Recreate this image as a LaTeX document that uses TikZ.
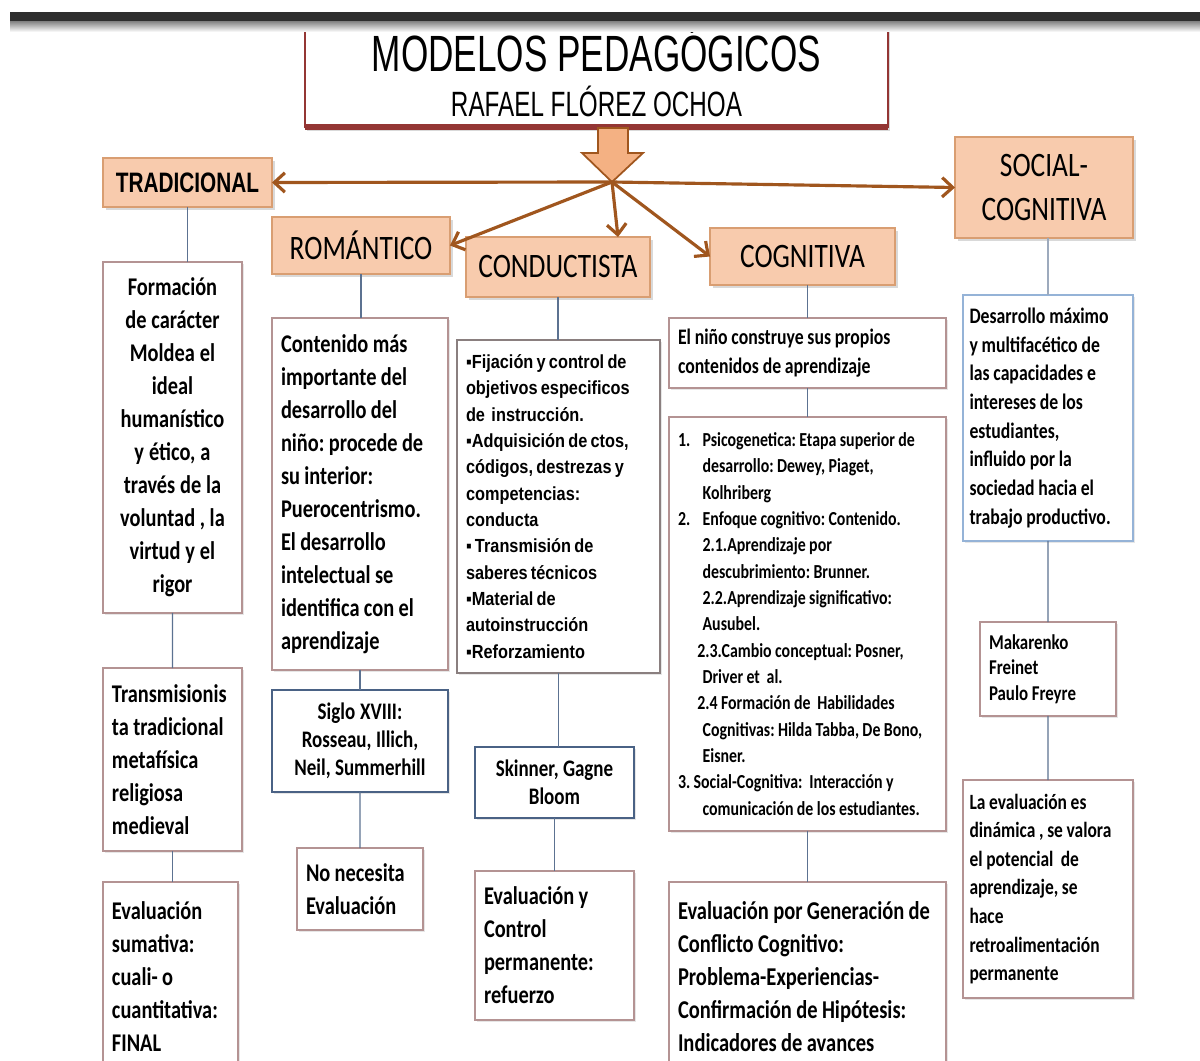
\documentclass[tikz,border=0pt]{standalone}
\usepackage{fontspec}
\usetikzlibrary{arrows.meta,shadows}
\newfontfamily\calibri{Carlito}[FakeStretch=0.8]
\newfontfamily\arialn{Liberation Sans}[FakeStretch=0.86]
\newfontfamily\arialc{Liberation Sans}[FakeStretch=0.74]
\newfontfamily\titulofont{Liberation Sans}[FakeStretch=0.69]
\definecolor{naranja}{HTML}{F8CBAD}
\definecolor{naranjab}{HTML}{D99E72}
\definecolor{naranjaf}{HTML}{F4B183}
\definecolor{cafe}{HTML}{A0561E}
\definecolor{vino}{HTML}{943634}
\definecolor{lineaazul}{HTML}{5C7291}
\definecolor{rosa}{HTML}{B49393}
\definecolor{grisb}{HTML}{8A7F7F}
\definecolor{azulb}{HTML}{4A6285}
\definecolor{celeste}{HTML}{95B3D7}
\definecolor{barra}{HTML}{2E2E2E}
\newcommand{\sangria}{\hspace*{14pt}}
\newcommand{\espacio}{\frenchspacing\spaceskip=0.17em plus 0.05em minus 0.03em\relax}
\begin{document}
\hyphenpenalty=10000 \exhyphenpenalty=10000
\begin{tikzpicture}[x=0.02cm, y=-0.02cm,
  every node/.style={outer sep=0pt},
  titulo/.style={draw=vino, line width=1.5pt, fill=white, align=center,
    minimum width=11.66cm, minimum height=2.18cm,
    drop shadow={shadow xshift=1pt, shadow yshift=-2pt, opacity=0.3}},
  cabeza/.style={draw=naranjab, fill=naranja, line width=0.8pt, align=center,
    font=\calibri\fontsize{19.5}{24.5}\selectfont,
    drop shadow={shadow xshift=1.5pt, shadow yshift=-1.5pt, opacity=0.3}},
  caja/.style={draw=rosa, fill=white, line width=0.7pt, anchor=north west,
    align=left, inner xsep=0.18cm, inner ysep=0pt,
    font=\calibri\bfseries\fontsize{14.5}{18.8}\selectfont,
    execute at begin node=\espacio,
    drop shadow={shadow xshift=1pt, shadow yshift=-1pt, opacity=0.2}},
  conector/.style={draw=lineaazul, line width=0.8pt},
  flecha/.style={draw=cafe, line width=1.8pt, -{Straight Barb[length=6pt,width=11pt]}}]

\useasboundingbox (0,0) rectangle (1200,1061);
\clip (0,0) rectangle (1200,1061);

% titulo
\node[titulo, font=\titulofont\fontsize{20}{21.6}\selectfont] (titulo) at (596.5,72.5)
  {{\fontsize{29}{21.6}\selectfont MODELOS PEDAGÓGICOS}\\[4pt]RAFAEL FLÓREZ OCHOA};
\draw[vino, line width=3pt] (titulo.south west) -- (titulo.south east);
\fill[barra] (10,12) rectangle (1200,22);
\shade[top color=black!45, bottom color=white] (10,22) rectangle (1200,32);

% flecha gruesa
\draw[cafe, fill=naranjaf, line width=1pt] (598,128) -- (628,128) -- (628,153) -- (643,153)
  -- (612,182) -- (582,153) -- (598,153) -- cycle;
\coordinate (centro) at (612,182);

% modelos
\node[cabeza, minimum width=3.38cm, minimum height=0.98cm,
  font=\arialc\bfseries\fontsize{16}{20}\selectfont] (htrad) at (187.5,182.5) {TRADICIONAL};
\node[cabeza, minimum width=3.56cm, minimum height=1.14cm] (hrom) at (361,245.5) {ROMÁNTICO};
\node[cabeza, minimum width=3.68cm, minimum height=1.2cm] (hcond) at (558,267) {CONDUCTISTA};
\node[cabeza, minimum width=3.7cm, minimum height=1.14cm] (hcog) at (802.5,256.5) {COGNITIVA};
\node[cabeza, minimum width=3.56cm, minimum height=2.02cm] (hsoc) at (1044,187.5) {SOCIAL-\\COGNITIVA};

\draw[flecha] (centro) -- (htrad.east);
\draw[flecha] (centro) -- (hsoc.west);
\draw[flecha] (centro) -- (hrom.east);
\draw[flecha] (centro) -- ([xshift=1.2cm]hcond.north);
\draw[flecha] (centro) -- (hcog.west);

% tradicional
\node[caja, text width=2.58cm, inner xsep=0.1cm, minimum height=7.02cm, align=center] (trad1) at (103,262)
  {Formación\\de carácter\\Moldea el\\ideal\\humanístico\\y ético, a\\través de la\\voluntad , la\\virtud y el\\rigor};
\node[caja, text width=2.42cm, minimum height=3.66cm] (trad2) at (103,668)
  {Transmisionis\\ta tradicional\\metafísica\\religiosa\\medieval};
\node[caja, text width=2.34cm, minimum height=3.8cm] (trad3) at (103,882)
  {Evaluación\\sumativa:\\cuali- o\\cuantitativa:\\FINAL};

% romantico
\node[caja, text width=3.16cm, minimum height=7.04cm] (rom1) at (272,318)
  {Contenido más\\importante del\\desarrollo del\\niño: procede de\\su interior:\\Puerocentrismo.\\El desarrollo\\intelectual se\\identifica con el\\aprendizaje};
\node[caja, draw=azulb, text width=3.16cm, minimum height=2.04cm, align=center,
  font=\calibri\bfseries\fontsize{13.5}{16}\selectfont] (rom2) at (272,690)
  {Siglo XVIII:\\Rosseau, Illich,\\Neil, Summerhill};
\node[caja, text width=2.16cm, minimum height=1.64cm] (rom3) at (297,848)
  {No necesita\\Evaluación};

% conductista
\node[caja, draw=grisb, text width=3.7cm, minimum height=6.66cm,
  font=\arialn\bfseries\fontsize{10.8}{15}\selectfont] (cond1) at (457,340)
  {▪Fijación y control de\\objetivos especificos\\de\ \ instrucción.\\▪Adquisición de ctos,\\códigos, destrezas y\\competencias:\\conducta\\▪ Transmisión de\\saberes técnicos\\▪Material de\\autoinstrucción\\▪Reforzamiento};
\node[caja, draw=azulb, text width=2.82cm, minimum height=1.42cm, align=center,
  font=\calibri\bfseries\fontsize{13.5}{16}\selectfont] (cond2) at (475,747)
  {Skinner, Gagne\\Bloom};
\node[caja, text width=2.82cm, minimum height=2.98cm] (cond3) at (475,871)
  {Evaluación y\\Control\\permanente:\\refuerzo};

% cognitiva
\node[caja, text width=5.18cm, minimum height=1.4cm,
  font=\calibri\bfseries\fontsize{12.6}{16.5}\selectfont] (cog1) at (669,318)
  {El niño construye sus propios\\contenidos de aprendizaje};
\node[caja, text width=5.18cm, minimum height=8.28cm,
  font=\calibri\bfseries\fontsize{11.3}{15}\selectfont] (cog2) at (669,417)
  {\makebox[14pt][l]{1.}Psicogenetica: Etapa superior de\\
   \sangria desarrollo: Dewey, Piaget,\\
   \sangria Kolhriberg\\
   \makebox[14pt][l]{2.}Enfoque cognitivo: Contenido.\\
   \sangria 2.1.Aprendizaje por\\
   \sangria descubrimiento: Brunner.\\
   \sangria 2.2.Aprendizaje significativo:\\
   \sangria Ausubel.\\
   \hspace*{11pt}2.3.Cambio conceptual: Posner,\\
   \sangria Driver et\ \ al.\\
   \hspace*{11pt}2.4 Formación de\ \ Habilidades\\
   \sangria Cognitivas: Hilda Tabba, De Bono,\\
   \sangria Eisner.\\
   3. Social-Cognitiva:\ \ Interacción y\\
   \sangria comunicación de los estudiantes.};
\node[caja, text width=5.18cm, minimum height=3.8cm,
  font=\calibri\bfseries\fontsize{14.6}{18.8}\selectfont] (cog3) at (669,882)
  {Evaluación por Generación de\\Conflicto Cognitivo:\\Problema-Experiencias-\\Confirmación de Hipótesis:\\Indicadores de avances};

% social-cognitiva
\node[caja, draw=celeste, text width=3.14cm, inner xsep=0.13cm, minimum height=4.92cm,
  font=\calibri\bfseries\fontsize{12.6}{16.3}\selectfont] (soc1) at (963,295)
  {Desarrollo máximo\\y multifacético de\\las capacidades e\\intereses de los\\estudiantes,\\influido por la\\sociedad hacia el\\trabajo productivo.};
\node[caja, text width=2.36cm, minimum height=1.88cm,
  font=\calibri\bfseries\fontsize{12}{14.5}\selectfont] (soc2) at (980,622)
  {Makarenko\\Freinet\\Paulo Freyre};
\node[caja, text width=3.14cm, inner xsep=0.13cm, minimum height=4.36cm,
  font=\calibri\bfseries\fontsize{12.4}{16.3}\selectfont] (soc3) at (963,780)
  {La evaluación es\\dinámica , se valora\\el potencial\ \ de\\aprendizaje, se\\hace\\retroalimentación\\permanente};

% conectores
\draw[conector] (htrad.south) -- (htrad.south |- trad1.north);
\draw[conector] (trad1.south) -- (trad2.north);
\draw[conector] (trad2.south) -- (trad2.south |- trad3.north);
\draw[conector] (hrom.south) -- (hrom.south |- rom1.north);
\draw[conector] (rom1.south) -- (rom2.north);
\draw[conector] (rom2.south) -- (rom3.north);
\draw[conector] (hcond.south) -- (hcond.south |- cond1.north);
\draw[conector] (cond1.south) -- (cond1.south |- cond2.north);
\draw[conector] (cond2.south) -- (cond3.north);
\draw[conector] (cog1.north |- hcog.south) -- (cog1.north);
\draw[conector] (cog1.south) -- (cog2.north);
\draw[conector] (cog2.south) -- (cog3.north);
\draw[conector, draw=lineaazul!60] (soc1.north |- hsoc.south) -- (soc1.north);
\draw[conector] (soc1.south) -- (soc2.north);
\draw[conector] (soc2.south) -- (soc3.north);
\end{tikzpicture}
\end{document}
